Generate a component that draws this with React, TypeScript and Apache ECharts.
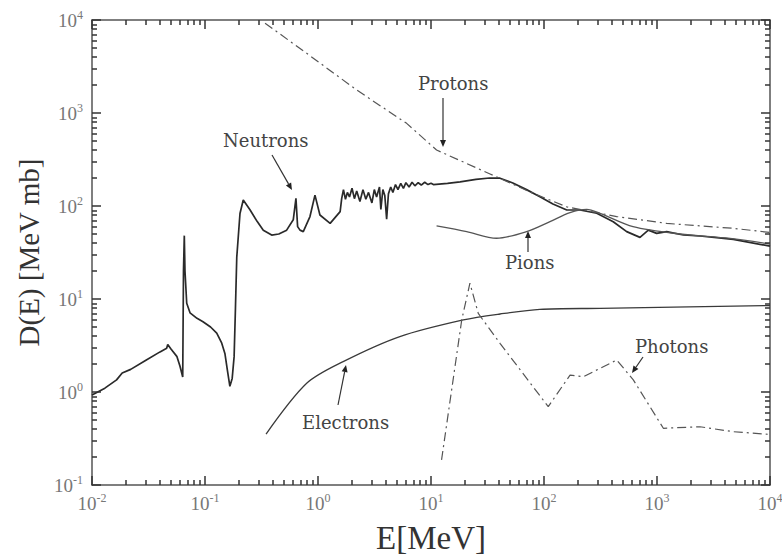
import React, { useEffect, useRef } from "react";
import * as echarts from "echarts";

// ---- data (E in MeV, D in MeV mb) ----
const neutronE = [0.01, 0.013, 0.0165, 0.0185, 0.022, 0.03, 0.04, 0.0458, 0.0468, 0.05, 0.0565, 0.06, 0.0635, 0.0645, 0.0656, 0.0665, 0.0689, 0.0737, 0.085, 0.096, 0.112, 0.127, 0.14, 0.15, 0.158, 0.166, 0.174, 0.181, 0.186, 0.191, 0.204, 0.218, 0.25, 0.29, 0.328, 0.389, 0.45, 0.528, 0.604, 0.638, 0.66, 0.693, 0.741, 0.849, 0.94, 1.04, 1.28, 1.57, 1.62, 1.68, 1.75, 1.82, 1.9, 2.0, 2.1, 2.2, 2.35, 2.5, 2.65, 2.8, 3.0, 3.15, 3.3, 3.5, 3.6, 3.75, 3.9, 4.05, 4.2, 4.4, 4.6, 4.85, 5.1, 5.4, 5.7, 6.0, 6.4, 6.8, 7.2, 7.7, 8.2, 8.8, 9.4, 10, 10.5, 14, 18.1, 25, 33, 40.8, 53, 70, 92, 120, 159, 208, 293, 410, 539, 707, 838, 993, 1218, 1710, 2400, 4735, 10000];
const neutronD = [0.93, 1.1, 1.35, 1.6, 1.75, 2.2, 2.7, 2.95, 3.25, 2.9, 2.4, 1.9, 1.45, 20, 48, 20, 9, 7.1, 6.2, 5.7, 5.0, 4.3, 3.4, 2.6, 1.7, 1.15, 1.4, 2.4, 8, 28, 83, 116, 91, 68, 55, 48.7, 50, 55, 71, 121, 60, 55, 53, 77, 131, 80, 65, 87, 120, 150, 118, 140, 125, 155, 120, 145, 112, 150, 118, 140, 108, 150, 125, 160, 92, 150, 130, 72, 135, 160, 140, 170, 150, 175, 155, 178, 160, 180, 165, 178, 168, 180, 170, 176, 170, 175, 182, 193, 200, 199, 177, 150, 126, 105, 90.6, 90.6, 83.5, 67.8, 53, 46, 55, 50.8, 53, 48.8, 47.6, 43.8, 37];

const protonE = [0.34, 0.794, 2.2, 6.09, 11.2, 33.3, 80, 159, 440, 1218, 4735, 10000];
const protonD = [9230, 4385, 1766, 774, 400, 221, 137, 98, 77, 65, 57.5, 52];

const pionE = [11.2, 20.7, 38, 70, 113, 170, 239, 313, 614, 1600, 4430, 10000];
const pionD = [61, 53, 45, 53, 68, 85, 92, 83.5, 60, 50, 44.8, 39];

const electronE = [0.347, 0.794, 1.67, 5.3, 19.3, 40.8, 92, 313, 10000];
const electronD = [0.353, 1.24, 2.12, 3.94, 5.95, 6.9, 7.75, 7.94, 8.5];

const photonE = [12.4, 18.7, 22.1, 26.2, 40.8, 109, 170, 223, 440, 617, 1138, 2400, 4735, 10000];
const photonD = [0.186, 5.95, 14.8, 7.0, 3.34, 0.695, 1.52, 1.46, 2.21, 1.35, 0.407, 0.423, 0.374, 0.35];

const xMin = 0.01, xMax = 10000, yMin = 0.1, yMax = 10000;
const xDecades = [-2, -1, 0, 1, 2, 3, 4];
const yDecades = [-1, 0, 1, 2, 3, 4];
const minorMultipliers = [2, 3, 4, 5, 6, 7, 8, 9];

const labelFont = "Liberation Serif";
const annFont = "DejaVu Serif";

const W = 782, H = 557;
const GRID = { left: 92, right: 12, top: 20, bottom: 72 };

const zip = (a: number[], b: number[]) => a.map((v, i) => [v, b[i]]);

export default function App() {
  const ref = useRef<HTMLDivElement>(null);
  useEffect(() => {
    document.body.style.margin = "0";
    const chart = echarts.init(ref.current!, null, { renderer: "svg" });

    const tickFmt = (v: number) => {
      const e = Math.round(Math.log10(v));
      return `{b|10}{s|${e}}`;
    };
    const rich = {
      b: { fontFamily: labelFont, fontSize: 19, color: "#777", lineHeight: 22 },
      s: { fontFamily: labelFont, fontSize: 12, color: "#777", verticalAlign: "top" as const, lineHeight: 12 },
    };
    const axisLineStyle = { color: "#555", width: 1.5 };

    const baseX = {
      type: "log" as const,
      logBase: 10,
      min: xMin,
      max: xMax,
      splitNumber: 6,
      axisLine: { show: true, onZero: false, lineStyle: axisLineStyle },
      axisTick: { show: false },
      splitLine: { show: false },
    };
    const baseY = {
      type: "log" as const,
      logBase: 10,
      min: yMin,
      max: yMax,
      splitNumber: 5,
      axisLine: { show: true, onZero: false, lineStyle: axisLineStyle },
      axisTick: { show: false },
      splitLine: { show: false },
    };

    // tick marks as line segments in data space (lengths expressed as fractions of a decade)
    const pxPerDecX = (W - GRID.left - GRID.right) / Math.log10(xMax / xMin);
    const pxPerDecY = (H - GRID.top - GRID.bottom) / Math.log10(yMax / yMin);
    const fx = (len: number) => Math.pow(10, len / pxPerDecX);
    const fy = (len: number) => Math.pow(10, len / pxPerDecY);
    const tickSegs: any[] = [];
    xDecades.forEach((d) => {
      const vals = [Math.pow(10, d), ...(d < 4 ? minorMultipliers.map((m) => m * Math.pow(10, d)) : [])];
      vals.forEach((v, i) => {
        const len = i === 0 ? 9 : 5;
        tickSegs.push({ coords: [[v, yMin], [v, yMin * fy(len)]] });
        tickSegs.push({ coords: [[v, yMax], [v, yMax / fy(len)]] });
      });
    });
    yDecades.forEach((d) => {
      const vals = [Math.pow(10, d), ...(d < 4 ? minorMultipliers.map((m) => m * Math.pow(10, d)) : [])];
      vals.forEach((v, i) => {
        const len = i === 0 ? 9 : 5;
        tickSegs.push({ coords: [[xMin, v], [xMin * fx(len), v]] });
        tickSegs.push({ coords: [[xMax, v], [xMax / fx(len), v]] });
      });
    });

    const arrow = (x1: number, y1: number, x2: number, y2: number) => {
      const dx = x2 - x1, dy = y2 - y1;
      const len = Math.sqrt(dx * dx + dy * dy);
      const ux = dx / len, uy = dy / len;
      const bx = x2 - ux * 7, by = y2 - uy * 7;
      return [
        { type: "line", shape: { x1, y1, x2: bx, y2: by }, style: { stroke: "#333", lineWidth: 1.2 } },
        {
          type: "polygon",
          shape: { points: [[x2, y2], [bx - uy * 3, by + ux * 3], [bx + uy * 3, by - ux * 3]] },
          style: { fill: "#222" },
        },
      ];
    };
    const label = (text: string, x: number, y: number) => ({
      type: "text",
      x,
      y,
      style: { text, fontFamily: annFont, fontSize: 18, fill: "#444", textVerticalAlign: "middle" },
    });

    const option: any = {
      animation: false,
      grid: { ...GRID, containLabel: false, outerBoundsMode: "none" },
      xAxis: [
        {
          ...baseX,
          position: "bottom",
          name: "E[MeV]",
          nameLocation: "middle",
          nameGap: 36,
          nameTextStyle: { fontFamily: labelFont, fontSize: 33, color: "#333" },
          axisLabel: { formatter: tickFmt, rich, margin: 7 },
        },
        { ...baseX, position: "top", axisLabel: { show: false } },
      ],
      yAxis: [
        {
          ...baseY,
          position: "left",
          name: "D(E) [MeV mb]",
          nameLocation: "middle",
          nameGap: 46,
          nameRotate: 90,
          nameTextStyle: { fontFamily: labelFont, fontSize: 29, color: "#333" },
          axisLabel: { formatter: tickFmt, rich, margin: 9 },
        },
        { ...baseY, position: "right", axisLabel: { show: false } },
      ],
      series: [
        {
          name: "ticks",
          type: "lines",
          coordinateSystem: "cartesian2d",
          silent: true,
          clip: false,
          data: tickSegs,
          lineStyle: { color: "#333", width: 1.5, opacity: 1, curveness: 0 },
          effect: { show: false },
          z: 5,
        },
        {
          name: "Neutrons",
          type: "line",
          data: zip(neutronE, neutronD),
          showSymbol: false,
          lineStyle: { color: "#2a2a2a", width: 1.7 },
        },
        {
          name: "Protons",
          type: "line",
          data: zip(protonE, protonD),
          showSymbol: false,
          lineStyle: { color: "#555", width: 1.2, type: [9, 4, 2, 4] },
        },
        {
          name: "Pions",
          type: "line",
          data: zip(pionE, pionD),
          showSymbol: false,
          smooth: 0.3,
          lineStyle: { color: "#555", width: 1.3 },
        },
        {
          name: "Electrons",
          type: "line",
          data: zip(electronE, electronD),
          showSymbol: false,
          smooth: 0.3,
          lineStyle: { color: "#3a3a3a", width: 1.3 },
        },
        {
          name: "Photons",
          type: "line",
          data: zip(photonE, photonD),
          showSymbol: false,
          lineStyle: { color: "#555", width: 1.2, type: [9, 4, 2, 4] },
        },
      ],
      graphic: [
        label("Protons", 418, 83),
        ...arrow(443, 98, 443, 147),
        label("Neutrons", 223, 140),
        ...arrow(272, 155, 292, 190),
        label("Pions", 505, 262),
        ...arrow(528, 252, 528, 231),
        label("Electrons", 302, 422),
        ...arrow(338, 405, 346, 365),
        label("Photons", 635, 346),
        ...arrow(643, 357, 632, 373),
      ],
    };
    chart.setOption(option);
    return () => chart.dispose();
  }, []);
  return <div ref={ref} style={{ width: W, height: H }} />;
}
